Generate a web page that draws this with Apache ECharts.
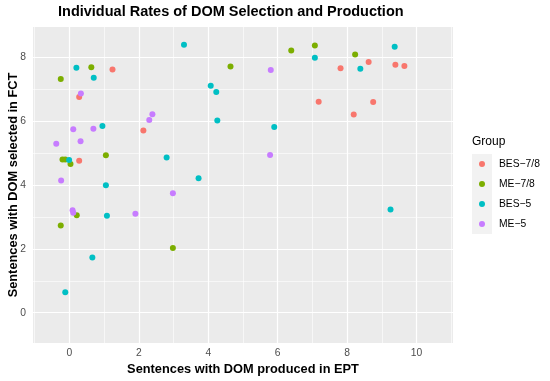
<!DOCTYPE html>
<html>
<head>
<meta charset="utf-8">
<script src="https://cdn.jsdelivr.net/npm/echarts@6/dist/echarts.min.js"></script>
<style>html,body{margin:0;padding:0;background:#fff;}#c{width:550px;height:381px;}</style>
</head>
<body>
<div id="c"></div>
<script>
const groups = ['BES\u22127/8', 'ME\u22127/8', 'BES\u22125', 'ME\u22125'];
const colors = ['#F8766D', '#7CAE00', '#00BFC4', '#C77CFF'];

const bes78 = [[1.24,7.62],[0.28,6.76],[2.13,5.71],[0.28,4.76],[7.18,6.61],[8.62,7.85],[7.81,7.66],[9.39,7.77],[9.65,7.73],[8.75,6.60],[8.19,6.21]];
const me78 = [[0.63,7.69],[-0.25,7.32],[-0.20,4.80],[-0.12,4.80],[0.03,4.66],[1.05,4.93],[0.21,3.05],[-0.25,2.73],[2.98,2.03],[6.39,8.21],[7.07,8.37],[4.64,7.71],[8.23,8.09]];
const bes5 = [[3.30,8.39],[0.20,7.67],[0.70,7.36],[0.95,5.85],[-0.01,4.78],[2.80,4.86],[1.05,3.99],[3.72,4.21],[1.08,3.04],[0.66,1.73],[-0.12,0.64],[7.07,7.99],[4.07,7.11],[4.23,6.91],[4.26,6.02],[5.90,5.82],[9.37,8.33],[8.38,7.64],[9.25,3.23]];
const me5 = [[0.33,6.87],[2.39,6.22],[2.30,6.04],[0.11,5.75],[0.69,5.76],[-0.38,5.29],[0.32,5.37],[-0.24,4.14],[2.98,3.74],[0.09,3.21],[0.11,3.13],[1.90,3.10],[5.80,7.60],[5.78,4.94]];
const groupData = [bes78, me78, bes5, me5];

const xTicks = [0, 2, 4, 6, 8, 10];
const xMinor = [-1, 1, 3, 5, 7, 9, 11];
const yTicks = [0, 2, 4, 6, 8];
const yMinor = [1, 3, 5, 7];

const font = 'Liberation Sans, Arial, Helvetica, sans-serif';

const gridLines = [];
xMinor.forEach(v => gridLines.push({xAxis: v, lineStyle: {width: 0.6}}));
yMinor.forEach(v => gridLines.push({yAxis: v, lineStyle: {width: 0.6}}));
xTicks.forEach(v => gridLines.push({xAxis: v, lineStyle: {width: 1.2}}));
yTicks.forEach(v => gridLines.push({yAxis: v, lineStyle: {width: 1.2}}));

const series = [{
  name: '_grid', type: 'scatter', data: [], symbolSize: 0, z: 1, silent: true,
  markLine: {
    z: 1, silent: true, symbol: ['none', 'none'], animation: false,
    label: {show: false},
    lineStyle: {color: '#FFFFFF', type: 'solid', width: 1.2},
    emphasis: {disabled: true},
    data: gridLines
  }
}];
groups.forEach((g, i) => {
  series.push({
    name: g, type: 'scatter', data: groupData[i], symbol: 'circle', symbolSize: 6,
    itemStyle: {color: colors[i], opacity: 1}, z: 10 + i
  });
});

const chart = echarts.init(document.getElementById('c'), null, {renderer: 'canvas'});
chart.setOption({
  animation: false,
  backgroundColor: '#FFFFFF',
  title: [{
    text: 'Individual Rates of DOM Selection and Production',
    left: 58, top: 4, padding: 0,
    textStyle: {fontFamily: font, fontWeight: 'bold', fontSize: 14.5, color: '#000'}
  }, {
    text: 'Group', left: 472, top: 136, padding: 0,
    textStyle: {fontFamily: font, fontWeight: 'normal', fontSize: 12, color: '#000'}
  }],
  graphic: [{
    type: 'rect', left: 472, top: 154, shape: {width: 20, height: 80},
    style: {fill: '#F2F2F2'}, z: -1, silent: true
  }],
  legend: {
    data: groups, orient: 'vertical', left: 479, top: 154, padding: 0, itemGap: 0,
    itemWidth: 6, itemHeight: 6, icon: 'circle', selectedMode: false,
    textStyle: {fontFamily: font, fontSize: 10.3, color: '#000', lineHeight: 20, height: 20, padding: [0, 0, 0, 9]}
  },
  grid: {
    left: 33, right: 97, top: 27, bottom: 38, show: true,
    backgroundColor: '#EBEBEB', borderWidth: 0,
    outerBoundsMode: 'none', containLabel: false
  },
  xAxis: {
    type: 'value', min: -1.05, max: 11.05,
    name: 'Sentences with DOM produced in EPT', nameLocation: 'middle', nameGap: 20, nameMoveOverlap: false,
    nameTextStyle: {fontFamily: font, fontWeight: 'bold', fontSize: 12.8, color: '#000'},
    axisLine: {show: false},
    axisTick: {show: true, length: 3, customValues: xTicks, lineStyle: {color: '#333333', width: 1}},
    axisLabel: {customValues: xTicks, color: '#4D4D4D', fontFamily: font, fontSize: 10.3, margin: 5},
    splitLine: {show: false}
  },
  yAxis: {
    type: 'value', min: -0.95, max: 8.95,
    name: 'Sentences with DOM selected in FCT', nameLocation: 'middle', nameGap: 13, nameRotate: 90, nameMoveOverlap: false,
    nameTextStyle: {fontFamily: font, fontWeight: 'bold', fontSize: 12.8, color: '#000'},
    axisLine: {show: false},
    axisTick: {show: true, length: 3, customValues: yTicks, lineStyle: {color: '#333333', width: 1}},
    axisLabel: {customValues: yTicks, color: '#4D4D4D', fontFamily: font, fontSize: 10.3, margin: 7},
    splitLine: {show: false}
  },
  series: series
});
</script>
</body>
</html>
